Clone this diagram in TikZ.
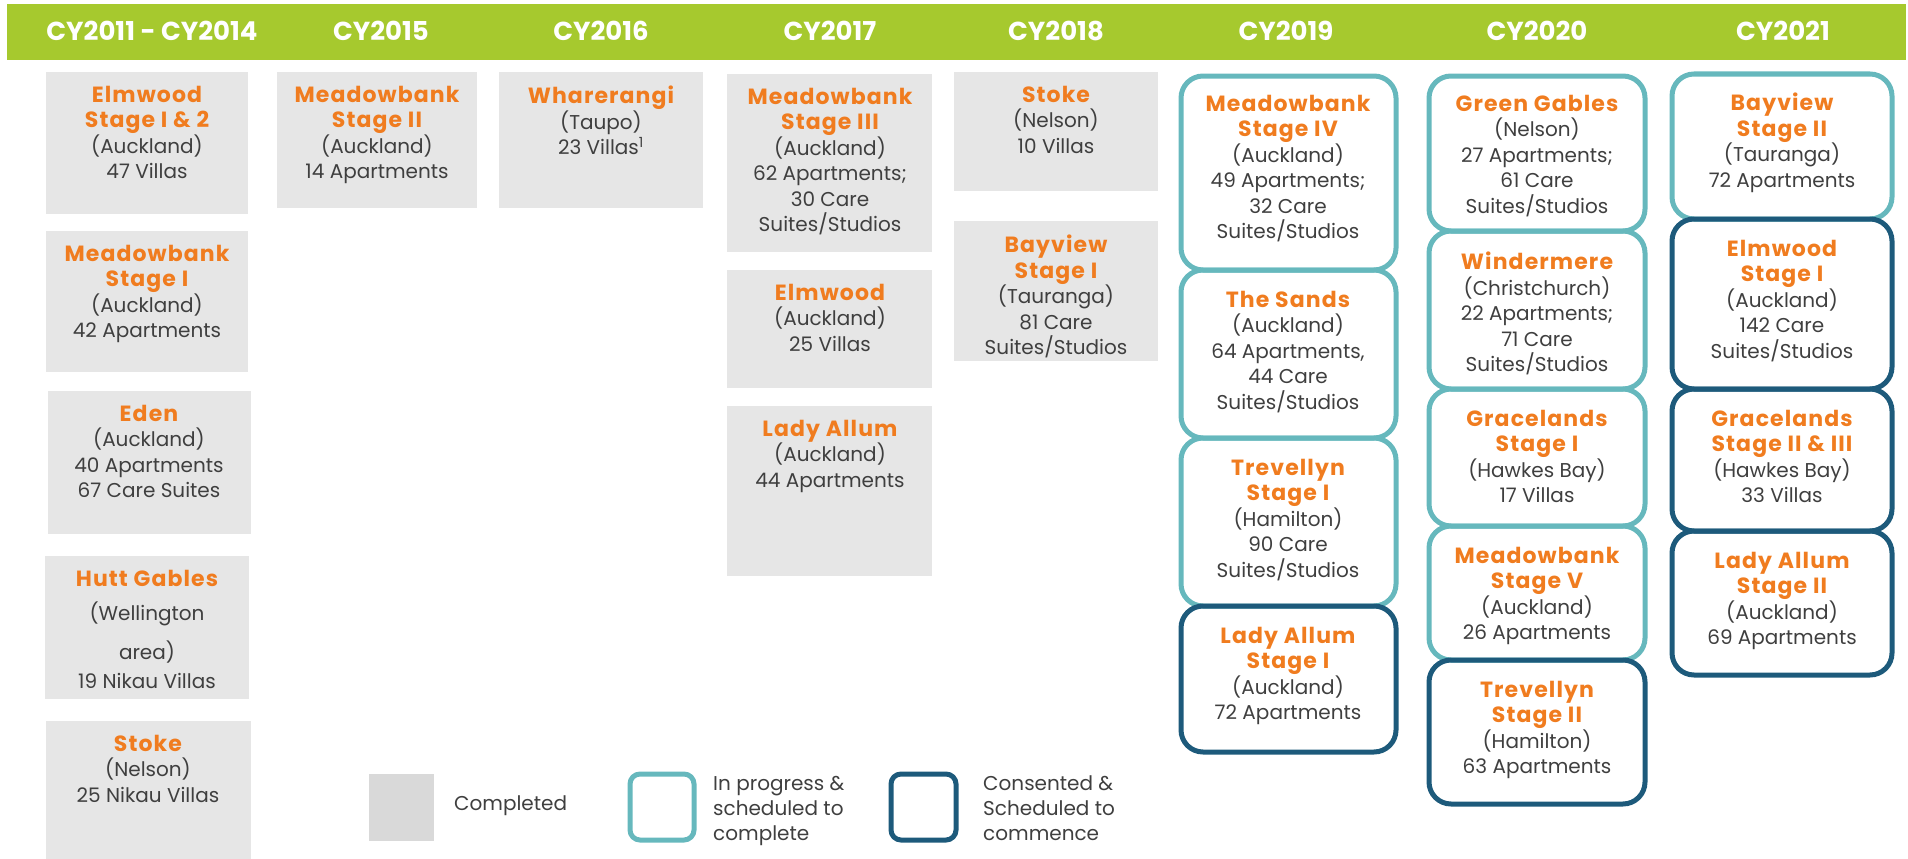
\documentclass[tikz,border=0pt]{standalone}
\usepackage{fontspec}
\setmainfont{Poppins}
\newfontfamily\sitefont[LetterSpace=5]{Poppins}
\usepackage{xcolor}
\usepackage{tikz}
\definecolor{bar}{HTML}{A6C92E}
\definecolor{donefill}{HTML}{E6E6E6}
\definecolor{donekey}{HTML}{D9D9D9}
\definecolor{sitecol}{HTML}{F07C1F}
\definecolor{prog}{HTML}{66B8BD}
\definecolor{cons}{HTML}{1D5A7B}
\definecolor{bodytext}{HTML}{3F3F3F}
\newcommand{\sitename}[1]{{\color{sitecol}\sitefont\bfseries\fontsize{22}{25.5}\selectfont #1}}
\tikzset{
  donebox/.style={fill=donefill},
  progbox/.style={draw=prog, line width=5pt, rounded corners=22pt},
  consbox/.style={draw=cons, line width=5pt, rounded corners=22pt},
  yearlab/.style={text=white, inner sep=0pt, font=\fontsize{26}{28}\selectfont\bfseries},
  entry/.style={anchor=north, inner sep=0pt, align=center, text=bodytext, font=\fontsize{20}{25.5}\selectfont},
  keytext/.style={anchor=west, inner sep=0pt, align=left, text=bodytext, font=\fontsize{20}{25}\selectfont}
}

\begin{document}
\begin{tikzpicture}[x=1pt, y=-1pt]
  \useasboundingbox (0,0) rectangle (1908,859);

  % year bar
  \fill[bar] (7,4) rectangle (1906,60);
  \node[yearlab] (y2014) at (152,31) {CY2011 - CY2014};
  \node[yearlab] (y2015) at (381,31) {CY2015};
  \node[yearlab] (y2016) at (601,31) {CY2016};
  \node[yearlab] (y2017) at (830,31) {CY2017};
  \node[yearlab] (y2018) at (1056,31) {CY2018};
  \node[yearlab] (y2019) at (1286,31) {CY2019};
  \node[yearlab] (y2020) at (1537,31) {CY2020};
  \node[yearlab] (y2021) at (1783,31) {CY2021};

  % completed, 2011 - 2014
  \fill[donebox] (46,72) rectangle (248,214);
  \node[entry] (elmwood12) at (147,86) {\sitename{Elmwood}\\\sitename{Stage I \& 2}\\(Auckland)\\47 Villas};
  \fill[donebox] (46,231) rectangle (248,372);
  \node[entry] (meadow1) at (147,245) {\sitename{Meadowbank}\\\sitename{Stage I}\\(Auckland)\\42 Apartments};
  \fill[donebox] (48,391) rectangle (251,534);
  \node[entry] (eden) at (149,405) {\sitename{Eden}\\(Auckland)\\40 Apartments\\67 Care Suites};
  \fill[donebox] (45,556) rectangle (249,699);
  \node[entry] (hutt) at (147,570) {\sitename{Hutt Gables}\\[9pt](Wellington\\[13pt]area)\\[4pt]19 Nikau Villas};
  \fill[donebox] (46,721) rectangle (251,859);
  \node[entry] (stoke25) at (148,735) {\sitename{Stoke}\\(Nelson)\\25 Nikau Villas};

  % completed, 2015 - 2018
  \fill[donebox] (277,72) rectangle (477,208);
  \node[entry] (meadow2) at (377,86) {\sitename{Meadowbank}\\\sitename{Stage II}\\(Auckland)\\14 Apartments};
  \fill[donebox] (499,72) rectangle (703,208);
  \node[entry] (wharerangi) at (601,86) {\sitename{Wharerangi}\\(Taupo)\\23 Villas\textsuperscript{1}};
  \fill[donebox] (727,74) rectangle (932,252);
  \node[entry] (meadow3) at (830,88) {\sitename{Meadowbank}\\\sitename{Stage III}\\(Auckland)\\62 Apartments;\\30 Care\\Suites/Studios};
  \fill[donebox] (727,270) rectangle (932,388);
  \node[entry] (elmwood) at (830,284) {\sitename{Elmwood}\\(Auckland)\\25 Villas};
  \fill[donebox] (727,406) rectangle (932,576);
  \node[entry] (allum) at (830,420) {\sitename{Lady Allum}\\(Auckland)\\44 Apartments};
  \fill[donebox] (954,72) rectangle (1158,191);
  \node[entry] (stoke10) at (1056,86) {\sitename{Stoke}\\(Nelson)\\10 Villas};
  \fill[donebox] (954,221) rectangle (1158,361);
  \node[entry] (bayview1) at (1056,235) {\sitename{Bayview}\\\sitename{Stage I}\\(Tauranga)\\81 Care\\Suites/Studios};

  % 2019
  \draw[progbox] (1181,76) rectangle (1396,270);
  \node[entry] (meadow4) at (1288,95) {\sitename{Meadowbank}\\\sitename{Stage IV}\\(Auckland)\\49 Apartments;\\32 Care\\Suites/Studios};
  \draw[progbox] (1181,270) rectangle (1396,438);
  \node[entry] (sands) at (1288,291) {\sitename{The Sands}\\(Auckland)\\64 Apartments,\\44 Care\\Suites/Studios};
  \draw[progbox] (1181,438) rectangle (1396,606);
  \node[entry] (trev1) at (1288,459) {\sitename{Trevellyn}\\\sitename{Stage I}\\(Hamilton)\\90 Care\\Suites/Studios};
  \draw[consbox] (1181,606) rectangle (1396,752);
  \node[entry] (allum1) at (1288,627) {\sitename{Lady Allum}\\\sitename{Stage I}\\(Auckland)\\72 Apartments};

  % 2020
  \draw[progbox] (1429,76) rectangle (1645,231);
  \node[entry] (gables) at (1537,95) {\sitename{Green Gables}\\(Nelson)\\27 Apartments;\\61 Care\\Suites/Studios};
  \draw[progbox] (1429,231) rectangle (1645,389);
  \node[entry] (winder) at (1537,252) {\sitename{Windermere}\\(Christchurch)\\22 Apartments;\\71 Care\\Suites/Studios};
  \draw[progbox] (1429,389) rectangle (1645,526);
  \node[entry] (grace1) at (1537,410) {\sitename{Gracelands}\\\sitename{Stage I}\\(Hawkes Bay)\\17 Villas};
  \draw[progbox] (1429,526) rectangle (1645,660);
  \node[entry] (meadow5) at (1537,547) {\sitename{Meadowbank}\\\sitename{Stage V}\\(Auckland)\\26 Apartments};
  \draw[consbox] (1429,660) rectangle (1645,804);
  \node[entry] (trev2) at (1537,681) {\sitename{Trevellyn}\\\sitename{Stage II}\\(Hamilton)\\63 Apartments};

  % 2021
  \draw[progbox] (1672,74) rectangle (1892,219);
  \node[entry] (bayview2) at (1782,93) {\sitename{Bayview}\\\sitename{Stage II}\\(Tauranga)\\72 Apartments};
  \draw[consbox] (1672,219) rectangle (1892,389);
  \node[entry] (elmwood1) at (1782,240) {\sitename{Elmwood}\\\sitename{Stage I}\\(Auckland)\\142 Care\\Suites/Studios};
  \draw[consbox] (1672,389) rectangle (1892,531);
  \node[entry] (grace23) at (1782,410) {\sitename{Gracelands}\\\sitename{Stage II \& III}\\(Hawkes Bay)\\33 Villas};
  \draw[consbox] (1672,531) rectangle (1892,675);
  \node[entry] (allum2) at (1782,552) {\sitename{Lady Allum}\\\sitename{Stage II}\\(Auckland)\\69 Apartments};

  % key
  \fill[donekey] (369,774) rectangle (434,841);
  \node[keytext] (kdone) at (454,806) {Completed};
  \draw[progbox, rounded corners=10pt] (630,774) rectangle (694,840);
  \node[keytext] (kprog) at (713,811) {In progress \&\\scheduled to\\complete};
  \draw[consbox, rounded corners=10pt] (891,774) rectangle (956,840);
  \node[keytext] (kcons) at (983,808) {Consented \&\\Scheduled to\\commence};
\end{tikzpicture}
\end{document}
